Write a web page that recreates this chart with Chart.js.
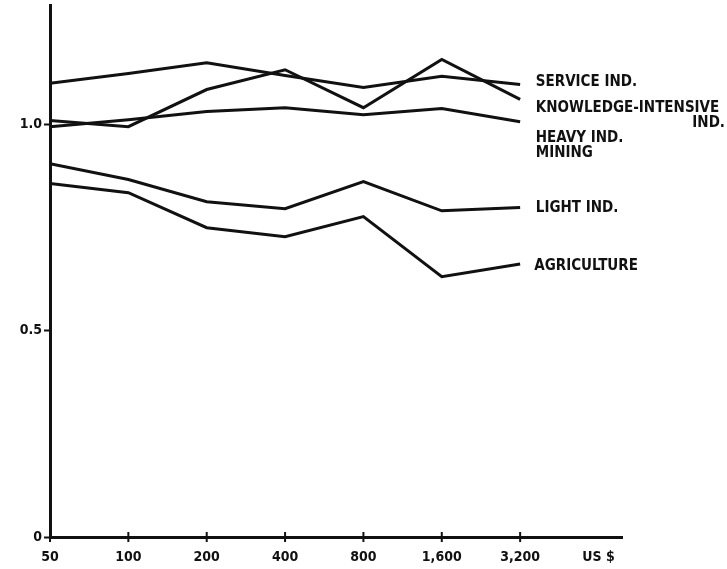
<!DOCTYPE html>
<html>
<head>
<meta charset="utf-8">
<script src="https://cdn.jsdelivr.net/npm/chart.js@4"></script>
<style>
  html, body { margin: 0; padding: 0; background: #fff; }
  canvas { display: block; }
</style>
</head>
<body>
<canvas id="incomeChart" width="727" height="569"></canvas>
<script>
// Income levels along the bottom (index 7 is the unit label)
const incomeLabels = ["50", "100", "200", "400", "800", "1,600", "3,200", "US $"];

// Relative values per sector, one per income level
const serviceInd = [1.100, 1.124, 1.150, 1.119, 1.090, 1.117, 1.097];
const knowledgeInd = [1.010, 0.995, 1.085, 1.133, 1.041, 1.158, 1.061];
const heavyInd = [0.995, 1.012, 1.032, 1.041, 1.024, 1.039, 1.007];
const lightInd = [0.905, 0.867, 0.813, 0.796, 0.862, 0.791, 0.799];
const agriculture = [0.857, 0.835, 0.750, 0.728, 0.777, 0.631, 0.662];

// Sector names written to the right of the lines (x, y in axis units)
const sectorNotes = [
    { text: "SERVICE IND.", x: 6.20, y: 1.103 },
    { text: "KNOWLEDGE-INTENSIVE", x: 6.20, y: 1.041 },
    { text: "IND.", x: null, y: 1.004 },
    { text: "HEAVY IND.", x: 6.20, y: 0.968 },
    { text: "MINING", x: 6.20, y: 0.932 },
    { text: "LIGHT IND.", x: 6.20, y: 0.798 },
    { text: "AGRICULTURE", x: 6.18, y: 0.656 }
];

const ink = "#111";
const fontFamily = "'DejaVu Sans Condensed', 'DejaVu Sans', sans-serif";
const labelFont = "bold 15px " + fontFamily;

function toPoints(values) {
    return values.map((v, i) => ({ x: i, y: v }));
}

function sectorLine(values) {
    return {
        data: toPoints(values),
        borderColor: ink,
        borderWidth: 3,
        pointRadius: 0,
        tension: 0,
        fill: false
    };
}

// Tick marks crossing the x axis, plus the sector names
const annotate = {
    id: "annotate",
    afterDraw(chart) {
        const c = chart.ctx;
        const xs = chart.scales.x;
        const ys = chart.scales.y;
        const base = ys.getPixelForValue(0);

        c.save();
        c.strokeStyle = ink;
        c.lineWidth = 2;
        for (let i = 0; i < 7; i++) {
            const px = xs.getPixelForValue(i);
            c.beginPath();
            c.moveTo(px, base - 5);
            c.lineTo(px, base + 5);
            c.stroke();
        }

        c.fillStyle = ink;
        c.font = labelFont;
        c.textBaseline = "middle";
        sectorNotes.forEach(note => {
            const py = ys.getPixelForValue(note.y);
            if (note.x === null) {
                c.textAlign = "right";
                c.fillText(note.text, chart.width - 2, py);
            } else {
                c.textAlign = "left";
                c.fillText(note.text, xs.getPixelForValue(note.x), py);
            }
        });
        c.restore();
    }
};

const ctx = document.getElementById("incomeChart").getContext("2d");
const incomeChart = new Chart(ctx, {
    type: "line",
    data: {
        datasets: [
            sectorLine(serviceInd),
            sectorLine(knowledgeInd),
            sectorLine(heavyInd),
            sectorLine(lightInd),
            sectorLine(agriculture)
        ]
    },
    options: {
        responsive: false,
        animation: false,
        events: [],
        layout: { padding: { top: 5, right: 105, left: 0, bottom: 0 } },
        plugins: { legend: { display: false }, tooltip: { enabled: false } },
        scales: {
            x: {
                type: "linear",
                min: 0,
                max: 7.3,
                afterBuildTicks: scale => {
                    scale.ticks = incomeLabels.map((_, i) => ({ value: i }));
                },
                afterFit: scale => { scale.height = 32; },
                border: { display: true, color: ink, width: 3 },
                grid: { display: true, drawOnChartArea: false, drawTicks: false },
                ticks: {
                    color: ink,
                    font: { family: fontFamily, size: 14, weight: "bold" },
                    padding: 12,
                    maxRotation: 0,
                    autoSkip: false,
                    callback: value => incomeLabels[value]
                }
            },
            y: {
                min: 0,
                max: 1.29,
                afterFit: scale => {
                    scale.width = 50;
                    scale.paddingTop = 0;
                    scale.paddingBottom = 0;
                },
                border: { display: true, color: ink, width: 3 },
                grid: {
                    display: true,
                    drawOnChartArea: false,
                    drawTicks: true,
                    tickLength: 6,
                    tickWidth: 2,
                    tickColor: ink
                },
                ticks: {
                    stepSize: 0.5,
                    includeBounds: false,
                    color: ink,
                    font: { family: fontFamily, size: 14, weight: "bold" },
                    padding: 2,
                    callback: value => value === 0 ? "0" : value.toFixed(1)
                }
            }
        }
    },
    plugins: [annotate]
});
</script>
</body>
</html>
